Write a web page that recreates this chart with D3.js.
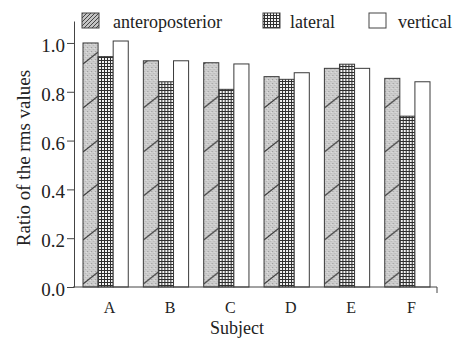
<!DOCTYPE html>
<html>
<head>
<meta charset="utf-8">
<script src="https://cdn.jsdelivr.net/npm/d3@7"></script>
<style>
  html, body { margin: 0; padding: 0; background: #fff; }
  svg { display: block; }
  text { font-family: "Liberation Serif", "Times New Roman", "DejaVu Serif", serif; fill: #222; }
</style>
</head>
<body>
<svg id="chart" width="454" height="339"></svg>
<script>
// Subjects and ratio of rms values per direction
const subjects = ["A", "B", "C", "D", "E", "F"];
const seriesNames = ["anteroposterior", "lateral", "vertical"];
const anteroposterior = [1.00, 0.927, 0.919, 0.862, 0.896, 0.855];
const lateral = [0.944, 0.841, 0.810, 0.851, 0.913, 0.700];
const vertical = [1.008, 0.927, 0.914, 0.878, 0.896, 0.841];
const yTicks = [0.0, 0.2, 0.4, 0.6, 0.8, 1.0];

const seriesValues = [anteroposterior, lateral, vertical];
const data = subjects.map((s, i) => ({
  subject: s,
  values: seriesNames.map((n, k) => ({ key: n, value: seriesValues[k][i] }))
}));

const svg = d3.select("#chart");
const axisX = 74, baseY = 287;

const x0 = d3.scaleBand().domain(subjects).range([83, 430]).paddingInner(0.25).paddingOuter(0);
const x1 = d3.scaleBand().domain(seriesNames).range([0, x0.bandwidth()]).padding(0);
const y = d3.scaleLinear().domain([0, 1.09]).range([baseY, 21]);

// Fill patterns
const defs = svg.append("defs");

// speckled grey with a sparse slanted stroke for the anteroposterior bars
const speck = defs.append("pattern").attr("id", "speck")
  .attr("patternUnits", "userSpaceOnUse").attr("width", 4).attr("height", 4);
speck.append("rect").attr("width", 4).attr("height", 4).attr("fill", "#cdcdcd");
speck.append("rect").attr("x", 0).attr("y", 0).attr("width", 1).attr("height", 1).attr("fill", "#9c9c9c");
speck.append("rect").attr("x", 2).attr("y", 2).attr("width", 1).attr("height", 1).attr("fill", "#aaaaaa");
speck.append("rect").attr("x", 3).attr("y", 1).attr("width", 1).attr("height", 1).attr("fill", "#e2e2e2");

// bars sit inside per-subject groups, so the tile origin is the group origin
const antero = defs.append("pattern").attr("id", "antero")
  .attr("patternUnits", "userSpaceOnUse")
  .attr("x", 0).attr("y", baseY)
  .attr("width", x0.step()).attr("height", 44);
antero.append("rect").attr("width", x0.step()).attr("height", 44).attr("fill", "url(#speck)");
antero.append("line").attr("x1", 0).attr("y1", 41).attr("x2", x1.bandwidth()).attr("y2", 29)
  .attr("stroke", "#3a3a3a").attr("stroke-width", 1);

// dense hatching for the legend swatch
const anteroKey = defs.append("pattern").attr("id", "anteroKey")
  .attr("patternUnits", "userSpaceOnUse").attr("width", 4).attr("height", 4);
anteroKey.append("rect").attr("width", 4).attr("height", 4).attr("fill", "#c4c4c4");
anteroKey.append("path").attr("d", "M-1,5 L5,-1").attr("stroke", "#444").attr("stroke-width", 1);

// fine grid for the lateral bars
const grid = defs.append("pattern").attr("id", "grid")
  .attr("patternUnits", "userSpaceOnUse").attr("width", 3).attr("height", 3);
grid.append("rect").attr("width", 3).attr("height", 3).attr("fill", "#f4f4f4");
grid.append("rect").attr("width", 3).attr("height", 1).attr("fill", "#2e2e2e");
grid.append("rect").attr("width", 1).attr("height", 3).attr("fill", "#2e2e2e");

const fills = { anteroposterior: "url(#antero)", lateral: "url(#grid)", vertical: "#fff" };
const keyFills = { anteroposterior: "url(#anteroKey)", lateral: "url(#grid)", vertical: "#fff" };

// Bars
const groups = svg.append("g").selectAll("g").data(data).join("g")
  .attr("transform", d => `translate(${x0(d.subject)},0)`);
groups.selectAll("rect").data(d => d.values).join("rect")
  .attr("x", d => x1(d.key))
  .attr("y", d => y(d.value))
  .attr("width", x1.bandwidth())
  .attr("height", d => baseY - y(d.value))
  .attr("fill", d => fills[d.key])
  .attr("stroke", "#3a3a3a")
  .attr("stroke-width", 1);

// Y axis
const yAxis = svg.append("g").attr("transform", `translate(${axisX},0)`)
  .call(d3.axisLeft(y).tickValues(yTicks).tickFormat(d3.format(".1f")).tickSizeInner(7).tickSizeOuter(0).tickPadding(2));
yAxis.select(".domain").attr("stroke", "#444");
yAxis.selectAll(".tick line").attr("stroke", "#444");
yAxis.selectAll(".tick text").attr("font-size", 19).attr("fill", "#222").attr("dy", "0.45em")
  .style("font-family", "'Liberation Serif', serif");

// X axis
const xAxis = svg.append("g").attr("transform", `translate(0,${baseY})`);
xAxis.append("line").attr("x1", axisX - 1).attr("x2", 437).attr("y1", 0).attr("y2", 0)
  .attr("stroke", "#444");
xAxis.append("line").attr("x1", 437).attr("x2", 437).attr("y1", 0).attr("y2", 6)
  .attr("stroke", "#444");
xAxis.selectAll("text").data(subjects).join("text")
  .attr("x", d => x0(d) + x0.bandwidth() / 2 + 4)
  .attr("y", 26)
  .attr("text-anchor", "middle")
  .attr("font-size", 16)
  .text(d => d);

// Axis titles
svg.append("text").attr("x", 237).attr("y", 334).attr("text-anchor", "middle")
  .attr("font-size", 18).text("Subject");
svg.append("text").attr("transform", "translate(30,158) rotate(-90)")
  .attr("text-anchor", "middle").attr("font-size", 19).text("Ratio of the rms values");

// Legend
const legendPos = [{ sx: 82, tx: 113 }, { sx: 263, tx: 290 }, { sx: 369, tx: 398 }];
const legend = svg.append("g").selectAll("g").data(seriesNames).join("g");
legend.append("rect")
  .attr("x", (d, i) => legendPos[i].sx).attr("y", 13)
  .attr("width", 17).attr("height", 15)
  .attr("fill", d => keyFills[d]).attr("stroke", "#444");
legend.append("text")
  .attr("x", (d, i) => legendPos[i].tx).attr("y", 28)
  .attr("font-size", 18).text(d => d);
</script>
</body>
</html>
